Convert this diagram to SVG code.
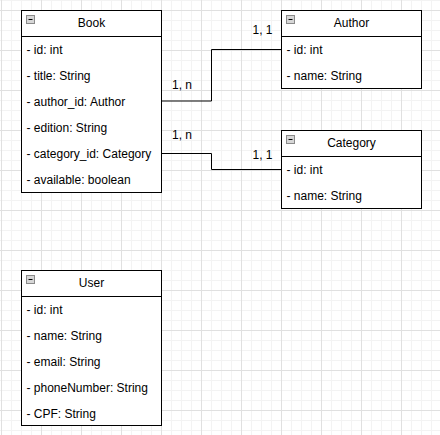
<svg xmlns="http://www.w3.org/2000/svg" width="440" height="435" viewBox="0 0 440 435">
<style>
.box{fill:#fff;stroke:#000;stroke-width:1}
.sep{stroke:#000;stroke-width:1}
.t{font-family:"Liberation Sans",Arial,sans-serif;font-size:12px;fill:#000}
.h{font-family:"Liberation Sans",Arial,sans-serif;font-size:12px;fill:#000;text-anchor:middle}
.ico{fill:#d6d6d6;stroke:#8a8a8a;stroke-width:1}
.minus{stroke:#000;stroke-width:1}
.conn{fill:none;stroke:#000;stroke-width:1}
</style>
<defs>
<pattern id="grid" x="1" y="10" width="40" height="40" patternUnits="userSpaceOnUse">
<path d="M10.5 0V40M20.5 0V40M30.5 0V40M0 20.5H40M0 30.5H40M0 0.5H40M0 10.5H40" stroke="#f3f3f3" stroke-width="1" fill="none"/>
<path d="M0.5 0V40M0 0.5H40" stroke="#e0e0e0" stroke-width="1" fill="none"/>
</pattern>
</defs>
<rect width="440" height="435" fill="#fff"/>
<rect width="440" height="435" fill="url(#grid)"/>
<g id="connectors">
<path class="conn" d="M161.5 101H211.5V49.5H281.5"/>
<path class="conn" d="M161.5 153.5H211.5V169.5H281.5"/>
<text class="t" x="172" y="89">1, n</text>
<text class="t" x="252.5" y="34">1, 1</text>
<text class="t" x="172" y="139">1, n</text>
<text class="t" x="252.5" y="159">1, 1</text>
</g>
<g id="book">
<rect class="box" x="21.5" y="10.5" width="140" height="182"/>
<line class="sep" x1="21.5" y1="36.5" x2="161.5" y2="36.5"/>
<rect class="ico" x="26.5" y="15.5" width="8" height="8"/>
<line class="minus" x1="28.5" y1="19.5" x2="32.5" y2="19.5"/>
<text class="h" x="91.5" y="27">Book</text>
<text class="t" x="26.5" y="54">- id: int</text>
<text class="t" x="26.5" y="80">- title: String</text>
<text class="t" x="26.5" y="106">- author_id: Author</text>
<text class="t" x="26.5" y="132">- edition: String</text>
<text class="t" x="26.5" y="158">- category_id: Category</text>
<text class="t" x="26.5" y="184">- available: boolean</text>
</g>
<g id="author">
<rect class="box" x="281.5" y="10.5" width="140" height="78"/>
<line class="sep" x1="281.5" y1="36.5" x2="421.5" y2="36.5"/>
<rect class="ico" x="286.5" y="15.5" width="8" height="8"/>
<line class="minus" x1="288.5" y1="19.5" x2="292.5" y2="19.5"/>
<text class="h" x="351.5" y="27">Author</text>
<text class="t" x="286.5" y="54">- id: int</text>
<text class="t" x="286.5" y="80">- name: String</text>
</g>
<g id="category">
<rect class="box" x="281.5" y="130.5" width="140" height="78"/>
<line class="sep" x1="281.5" y1="156.5" x2="421.5" y2="156.5"/>
<rect class="ico" x="286.5" y="135.5" width="8" height="8"/>
<line class="minus" x1="288.5" y1="139.5" x2="292.5" y2="139.5"/>
<text class="h" x="351.5" y="147">Category</text>
<text class="t" x="286.5" y="174">- id: int</text>
<text class="t" x="286.5" y="200">- name: String</text>
</g>
<g id="user">
<rect class="box" x="21.5" y="270.5" width="140" height="155"/>
<line class="sep" x1="21.5" y1="296.5" x2="161.5" y2="296.5"/>
<rect class="ico" x="26.5" y="275.5" width="8" height="8"/>
<line class="minus" x1="28.5" y1="279.5" x2="32.5" y2="279.5"/>
<text class="h" x="91.5" y="287">User</text>
<text class="t" x="26.5" y="314">- id: int</text>
<text class="t" x="26.5" y="340">- name: String</text>
<text class="t" x="26.5" y="366">- email: String</text>
<text class="t" x="26.5" y="392">- phoneNumber: String</text>
<text class="t" x="26.5" y="418">- CPF: String</text>
</g>
</svg>
